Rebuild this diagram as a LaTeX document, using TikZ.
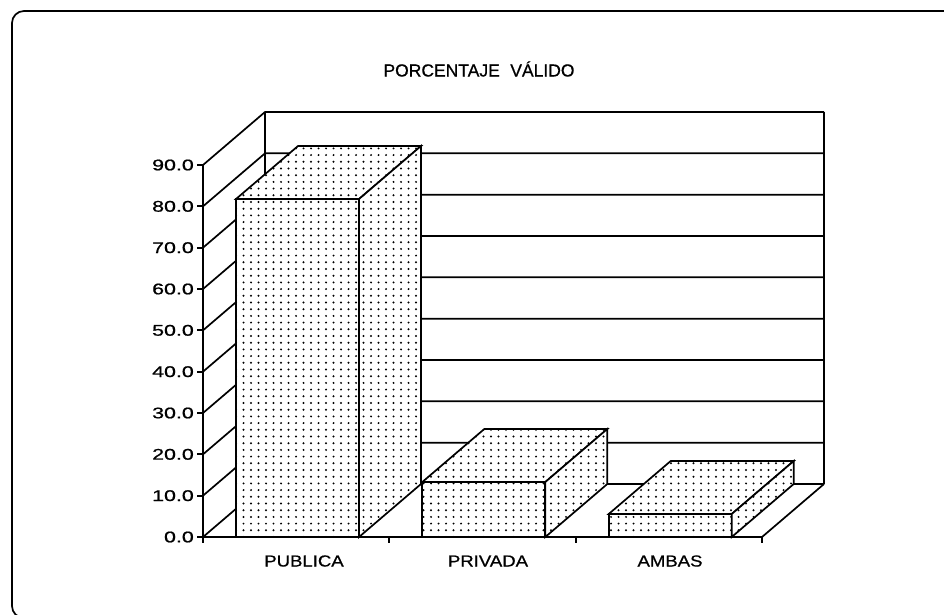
\documentclass[tikz,border=0pt]{standalone}
\usepackage{fontspec}
\usepackage{graphicx}
\setmainfont[FakeBold=0.7]{Liberation Sans}
\usetikzlibrary{patterns}
\pgfdeclarepatternformonly{mydots}{\pgfqpoint{-1pt}{-1pt}}{\pgfqpoint{8.5pt}{7.7pt}}{\pgfqpoint{7.5pt}{6.7pt}}{%
  \pgfpathcircle{\pgfqpoint{3.5pt}{3.3pt}}{1.1pt}\pgfusepath{fill}}
\newcommand{\ylabtext}[1]{\scalebox{1.38}[1]{#1}}
\newcommand{\cattext}[1]{\scalebox{1.16}[1]{#1}}
\tikzset{
  chartline/.style={line width=1.7pt, line join=miter, black},
  barface/.style={chartline, preaction={fill=white}, pattern=mydots},
  ylabel/.style={anchor=east, inner sep=0pt, font=\fontsize{15.5}{17}\selectfont},
  catlabel/.style={anchor=center, inner sep=0pt, font=\fontsize{16}{18}\selectfont},
}
\begin{document}
\begin{tikzpicture}[x=1pt,y=-1pt]
\useasboundingbox (0,0) rectangle (944,614);
\begin{scope}
\clip (0,0) rectangle (944,614);
% frame
\draw[line width=1.7pt, rounded corners=12pt] (12,11) rectangle (956,618);
\end{scope}
% title
\node[font=\fontsize{17.5}{19}\selectfont, inner sep=0pt] (title) at (479,69) {PORCENTAJE\hspace{0.6em}VÁLIDO};
% walls and grid
\foreach \k in {0,...,9} {
  \pgfmathsetmacro\yy{537-41.333*\k}
  \draw[chartline] (203,\yy) -- ++(62,-53) -- (824,\yy-53);
  \draw[chartline] (197,\yy) -- (203,\yy);
}
\draw[chartline] (265,112) -- (265,484);
\draw[chartline] (824,112) -- (824,484);
\draw[chartline] (203,165) -- (203,537) -- (762,537) -- ++(62,-53);
\foreach \xx in {203,389.3,575.7,762} {
  \draw[chartline] (\xx,537) -- (\xx,543);
}
% y labels
\foreach \k/\lab in {0/0.0,1/10.0,2/20.0,3/30.0,4/40.0,5/50.0,6/60.0,7/70.0,8/80.0,9/90.0} {
  \node[ylabel] (y\k) at (194,537-41.333*\k) {\ylabtext{\lab}};
}
% bars
\foreach \xa/\top in {236/199, 422.3/482, 608.7/514} {
  \pgfmathsetmacro\xb{\xa+123}
  \draw[barface] (\xa,537) rectangle (\xb,\top);
  \draw[barface] (\xa,\top) -- ++(62,-53) -- (\xb+62,\top-53) -- (\xb,\top) -- cycle;
  \draw[barface] (\xb,537) -- (\xb,\top) -- ++(62,-53) -- (\xb+62,484) -- cycle;
}
% category labels
\node[catlabel] (c1) at (304,561) {\cattext{PUBLICA}};
\node[catlabel] (c2) at (488,561) {\cattext{PRIVADA}};
\node[catlabel] (c3) at (670,561) {\cattext{AMBAS}};
\end{tikzpicture}
\end{document}
